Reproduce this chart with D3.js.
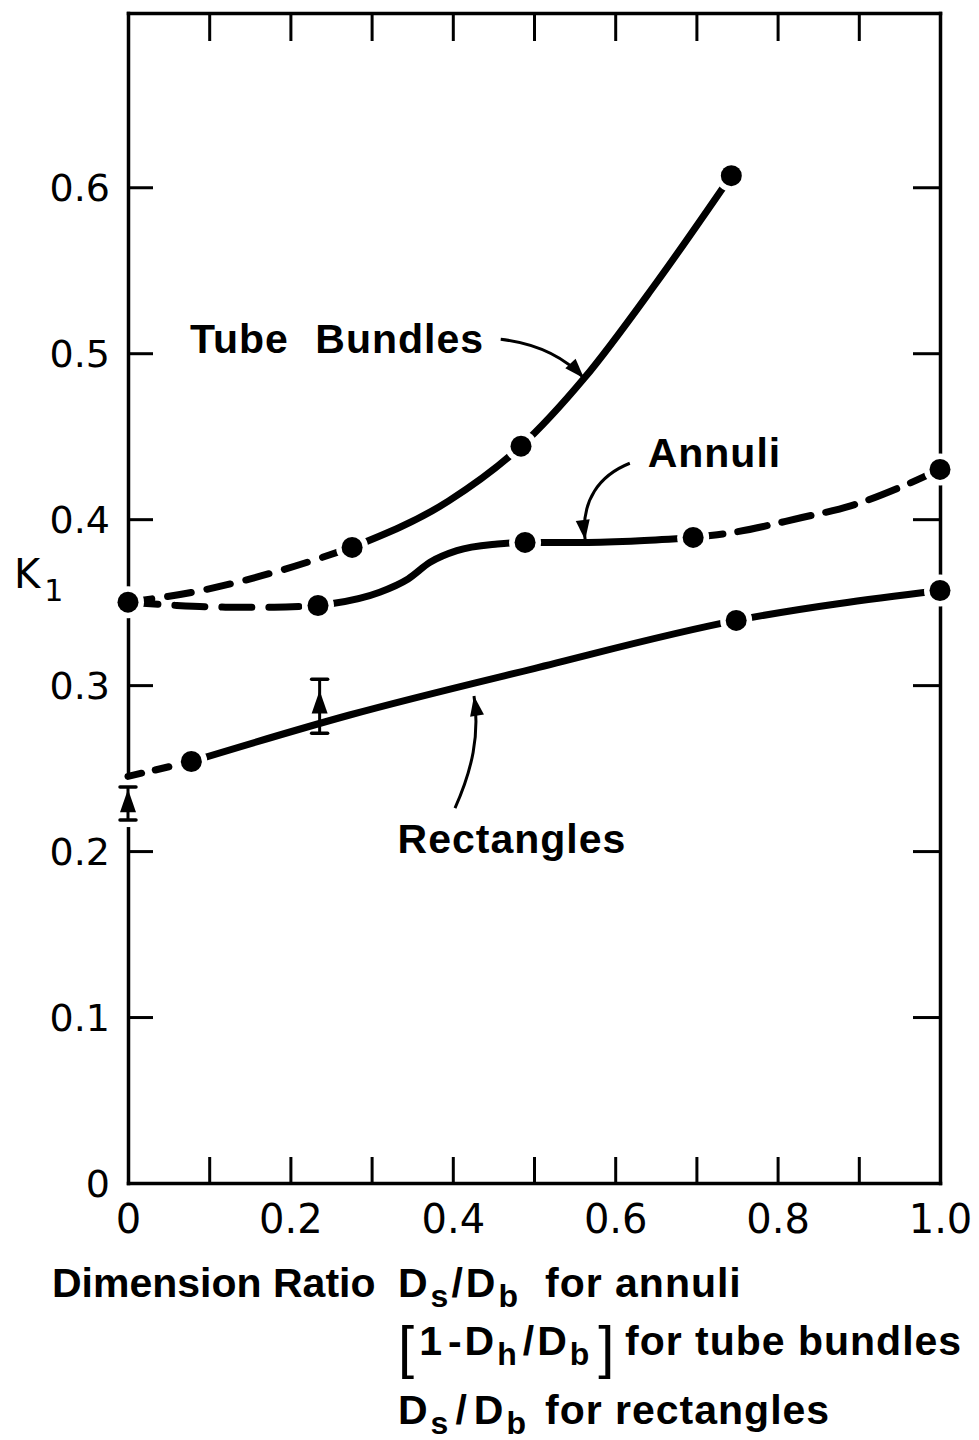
<!DOCTYPE html>
<html>
<head>
<meta charset="utf-8">
<script src="https://cdn.jsdelivr.net/npm/d3@7"></script>
<style>
  body { margin: 0; background: #fff; }
  svg { display: block; }
  .note { font-family: "Liberation Sans", Arial, sans-serif; font-weight: bold; fill: #000; }
</style>
</head>
<body>
<div id="chart"></div>
<script>
// K1 against dimension ratio
var xTicks = [0, 0.1, 0.2, 0.3, 0.4, 0.5, 0.6, 0.7, 0.8, 0.9, 1.0];
var xTickLabels = ["0", "", "0.2", "", "0.4", "", "0.6", "", "0.8", "", "1.0"];
var yTicks = [0, 0.1, 0.2, 0.3, 0.4, 0.5, 0.6];
var yTickLabels = ["0", "0.1", "0.2", "0.3", "0.4", "0.5", "0.6"];

// Tube bundles
var tubeDashed = [[0, 0.350], [0.09, 0.357], [0.18, 0.368], [0.276, 0.383]];
var tubeSolid = [[0.276, 0.383], [0.395, 0.411], [0.484, 0.444], [0.562, 0.485], [0.65, 0.542], [0.743, 0.607]];
var tubeDots = [[0, 0.350], [0.276, 0.383], [0.484, 0.444], [0.743, 0.607]];

// Annuli
var annuliDashedL = [[0, 0.350], [0.06, 0.348], [0.12, 0.347], [0.18, 0.347], [0.234, 0.348]];
var annuliSolid = [[0.234, 0.348], [0.25, 0.349], [0.31, 0.356], [0.345, 0.364], [0.372, 0.374], [0.405, 0.381], [0.455, 0.385], [0.489, 0.386], [0.56, 0.386], [0.63, 0.387], [0.696, 0.389]];
var annuliDashedR = [[0.696, 0.389], [0.745, 0.392], [0.83, 0.401], [0.89, 0.408], [0.95, 0.419], [1.0, 0.430]];
var annuliDots = [[0.234, 0.348], [0.489, 0.386], [0.696, 0.389], [1.0, 0.430]];

// Rectangles
var rectDashed = [[0, 0.245], [0.078, 0.254]];
var rectSolid = [[0.078, 0.254], [0.273, 0.282], [0.5, 0.310], [0.749, 0.339], [1.0, 0.357]];
var rectDots = [[0.078, 0.254], [0.749, 0.339], [1.0, 0.357]];
// triangles with error bars: [x, value, low, high]
var rectErr = [[0, 0.2295, 0.2187, 0.2386], [0.236, 0.289, 0.271, 0.3036]];

// curve labels and their arrows (data units)
var noteLabels = [["Tube Bundles", 0.0764, 0.500], ["Annuli", 0.640, 0.4313], ["Rectangles", 0.332, 0.199]];
var noteArrows = [
    [[0.459, 0.5084], [0.50, 0.506], [0.535, 0.499], [0.5616, 0.4849]],
    [[0.618, 0.4337], [0.581, 0.4265], [0.557, 0.4114], [0.563, 0.3875]],
    [[0.4027, 0.2259], [0.4236, 0.2488], [0.4335, 0.2699], [0.4261, 0.2935]]
];

var width = 979, height = 1440;

var svg = d3.select("#chart").append("svg")
    .attr("width", width)
    .attr("height", height);

var x = d3.scaleLinear().domain([0, 1]).range([128, 940]);
var y = d3.scaleLinear().domain([0, 0.705]).range([1183, 13]);

// frame: four axes with inward ticks
var axLeft = svg.append("g")
    .attr("transform", "translate(" + x(0) + ",0)")
    .call(d3.axisLeft(y).tickValues(yTicks)
        .tickFormat(function(d, i) { return yTickLabels[i]; })
        .tickSize(-25).tickSizeOuter(0).tickPadding(18));

var axBottom = svg.append("g")
    .attr("transform", "translate(0," + y(0) + ")")
    .call(d3.axisBottom(x).tickValues(xTicks)
        .tickFormat(function(d, i) { return xTickLabels[i]; })
        .tickSize(-26).tickSizeOuter(0).tickPadding(22));

var axTop = svg.append("g")
    .attr("transform", "translate(0," + y(0.705) + ")")
    .call(d3.axisTop(x).tickValues(xTicks.slice(1, -1))
        .tickFormat("").tickSize(-28).tickSizeOuter(0));

var axRight = svg.append("g")
    .attr("transform", "translate(" + x(1) + ",0)")
    .call(d3.axisRight(y).tickValues(yTicks.slice(1))
        .tickFormat("").tickSize(-27).tickSizeOuter(0));

[axLeft, axBottom, axTop, axRight].forEach(function(g) {
    g.select(".domain").attr("stroke-width", 3.5).attr("stroke-linecap", "square");
    g.selectAll(".tick line").attr("stroke-width", 3);
    g.selectAll(".tick text")
        .attr("font-family", "'DejaVu Sans', sans-serif")
        .attr("fill", "#000");
});
axLeft.selectAll(".tick text").attr("font-size", 38).attr("dy", "0.36em");
axBottom.selectAll(".tick text").attr("font-size", 40);

// K1 axis label
var k = svg.append("text")
    .attr("x", 14).attr("y", 588)
    .attr("font-family", "'DejaVu Sans', sans-serif")
    .attr("font-size", 40);
k.append("tspan").text("K");
k.append("tspan").attr("font-size", 30).attr("dx", 4).attr("dy", 13).text("1");

// white gaps in the frame behind the error-bar markers
svg.selectAll(".err-halo")
    .data(rectErr)
    .enter().append("line")
    .attr("class", "err-halo")
    .attr("x1", function(d) { return x(d[0]); })
    .attr("x2", function(d) { return x(d[0]); })
    .attr("y1", function(d) { return y(d[3]) - 8; })
    .attr("y2", function(d) { return y(d[2]) + 7; })
    .attr("stroke", "#fff")
    .attr("stroke-width", 12);

// curves
var line = d3.line()
    .x(function(d) { return x(d[0]); })
    .y(function(d) { return y(d[1]); })
    .curve(d3.curveMonotoneX);

var segments = [
    [tubeDashed, "24,16"], [tubeSolid, null],
    [annuliDashedL, "30,17"], [annuliSolid, null], [annuliDashedR, "30,15"],
    [rectDashed, "14,14"], [rectSolid, null]
];

svg.selectAll(".curve")
    .data(segments)
    .enter().append("path")
    .attr("class", "curve")
    .attr("d", function(d) { return line(d[0]); })
    .attr("fill", "none")
    .attr("stroke", "#000")
    .attr("stroke-width", 7)
    .attr("stroke-linecap", "round")
    .attr("stroke-dasharray", function(d) { return d[1]; });

// data points with a white ring so lines stop short of them
var dots = tubeDots.concat(annuliDots, rectDots);

svg.selectAll(".dot-halo")
    .data(dots)
    .enter().append("circle")
    .attr("class", "dot-halo")
    .attr("cx", function(d) { return x(d[0]); })
    .attr("cy", function(d) { return y(d[1]); })
    .attr("r", 16)
    .attr("fill", "#fff");

svg.selectAll(".dot")
    .data(dots)
    .enter().append("circle")
    .attr("class", "dot")
    .attr("cx", function(d) { return x(d[0]); })
    .attr("cy", function(d) { return y(d[1]); })
    .attr("r", 10.5)
    .attr("fill", "#000");

// triangles with error bars
var err = svg.selectAll(".err")
    .data(rectErr)
    .enter().append("g")
    .attr("class", "err");

err.append("line")
    .attr("x1", function(d) { return x(d[0]); })
    .attr("x2", function(d) { return x(d[0]); })
    .attr("y1", function(d) { return y(d[3]); })
    .attr("y2", function(d) { return y(d[2]); })
    .attr("stroke", "#000").attr("stroke-width", 3);

[3, 2].forEach(function(j) {
    err.append("line")
        .attr("x1", function(d) { return x(d[0]) - 8; })
        .attr("x2", function(d) { return x(d[0]) + 8; })
        .attr("y1", function(d) { return y(d[j]); })
        .attr("y2", function(d) { return y(d[j]); })
        .attr("stroke", "#000").attr("stroke-width", 3.5)
        .attr("stroke-linecap", "round");
});

err.append("path")
    .attr("d", function(d) {
        var cx = x(d[0]), cy = y(d[1]);
        return "M" + cx + "," + (cy - 13) + "L" + (cx + 8) + "," + (cy + 10) + "L" + (cx - 8) + "," + (cy + 10) + "Z";
    })
    .attr("fill", "#000");

// curve labels
svg.selectAll(".note-label")
    .data(noteLabels)
    .enter().append("text")
    .attr("class", "note note-label")
    .attr("x", function(d) { return x(d[1]); })
    .attr("y", function(d) { return y(d[2]); })
    .attr("font-size", 41)
    .attr("letter-spacing", 1)
    .attr("word-spacing", 14)
    .text(function(d) { return d[0]; });

// leader arrows
svg.selectAll(".arrow")
    .data(noteArrows)
    .enter().append("path")
    .attr("class", "arrow")
    .attr("d", function(d) {
        var p = d.map(function(q) { return [x(q[0]), y(q[1])]; });
        return "M" + p[0] + "C" + p[1] + " " + p[2] + " " + p[3];
    })
    .attr("fill", "none")
    .attr("stroke", "#000")
    .attr("stroke-width", 3);

svg.selectAll(".arrow-head")
    .data(noteArrows)
    .enter().append("path")
    .attr("class", "arrow-head")
    .attr("d", function(d) {
        var ex = x(d[3][0]), ey = y(d[3][1]);
        var px = x(d[2][0]), py = y(d[2][1]);
        var a = Math.atan2(ey - py, ex - px);
        var len = 20, hw = 7;
        var bx = ex - len * Math.cos(a), by = ey - len * Math.sin(a);
        var nx = -Math.sin(a) * hw, ny = Math.cos(a) * hw;
        return "M" + ex + "," + ey + "L" + (bx + nx) + "," + (by + ny) + "L" + (bx - nx) + "," + (by - ny) + "Z";
    })
    .attr("fill", "#000");

// x axis title, three lines with subscripts
function richLine(xs, yPos, spacing, parts, tailX, tail) {
    var t = svg.append("text")
        .attr("class", "note")
        .attr("x", xs).attr("y", yPos)
        .attr("font-size", 41);
    var shift = 0;
    parts.forEach(function(p) {
        var want = p[1] == "sub" ? 10 : (p[1] == "big" ? 12 : 0);
        var s = t.append("tspan")
            .attr("dy", want - shift)
            .attr("dx", p[2] || 0)
            .attr("letter-spacing", spacing)
            .text(p[0]);
        if (p[1] == "sub") s.attr("font-size", 32);
        if (p[1] == "big") s.attr("font-size", 58).attr("font-weight", "normal");
        shift = want;
    });
    t.append("tspan").attr("x", tailX).attr("dy", -shift)
        .attr("letter-spacing", 1).text(tail);
}

svg.append("text")
    .attr("class", "note")
    .attr("x", 52).attr("y", 1297)
    .attr("font-size", 41)
    .text("Dimension Ratio");

richLine(398, 1297, 3, [["D"], ["s", "sub"], ["/"], ["D"], ["b", "sub"]], 545, "for annuli");
richLine(398, 1355, 3, [["[", "big"], ["1", null, 2], ["-", null, 3], ["D"], ["h", "sub"], ["/", null, 3], ["D"], ["b", "sub"], ["]", "big", 6]], 625, "for tube bundles");
richLine(398, 1424, 3, [["D"], ["s", "sub"], ["/", null, 4], ["D", null, 4], ["b", "sub"]], 545, "for rectangles");
</script>
</body>
</html>
